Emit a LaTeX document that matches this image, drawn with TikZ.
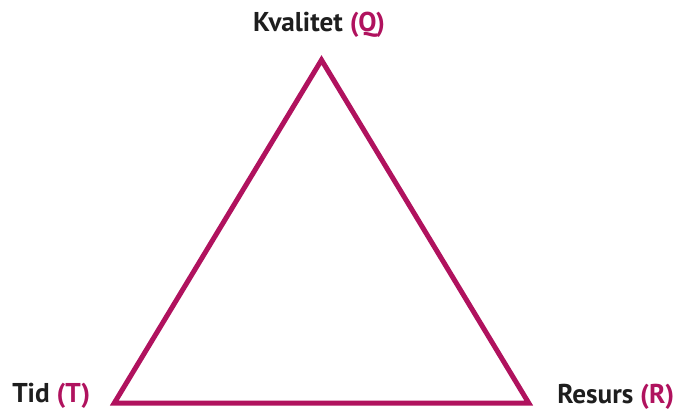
\documentclass[tikz,border=0pt]{standalone}
\usepackage{fontspec}
\setmainfont{PT Sans}
\usetikzlibrary{positioning}
\definecolor{qMagenta}{HTML}{B0125E}
\definecolor{qInk}{HTML}{1E1E1E}

\begin{document}
\begin{tikzpicture}[x=0.75pt, y=-0.75pt,
  corner/.style={font=\fontsize{20.4}{24}\selectfont\bfseries, text=qInk, inner sep=0pt},
  tag/.style={text=qMagenta},
]
  \useasboundingbox (0,0) rectangle (677,416);
  \coordinate (q) at (321.5,60);
  \coordinate (t) at (114.3,403);
  \coordinate (r) at (528.7,403);
  \draw[qMagenta, line width=3.75pt, miter limit=10] (q) -- (r) -- (t) -- cycle;
  \node[corner, anchor=base] (qlabel) at (319,32) {Kvalitet \textcolor{qMagenta}{(Q)}};
  \node[corner, anchor=base west] (tlabel) at (12,402) {Tid \textcolor{qMagenta}{(T)}};
  \node[corner, anchor=base west] (rlabel) at (557,403) {Resurs \textcolor{qMagenta}{(R)}};
\end{tikzpicture}
\end{document}
